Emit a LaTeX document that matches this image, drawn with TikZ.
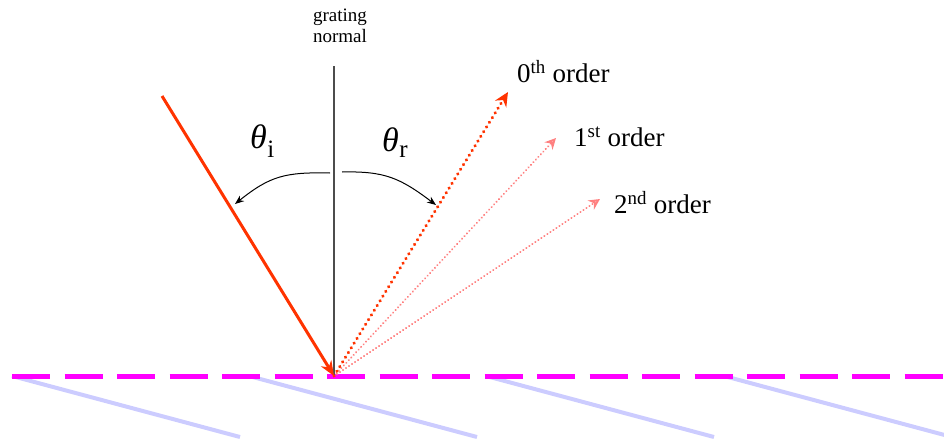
\documentclass[tikz,border=0pt]{standalone}
\usepackage{fontspec}
\setmainfont{Liberation Serif}
\usetikzlibrary{arrows.meta}
\definecolor{ray}{HTML}{FF3300}
\definecolor{faint}{HTML}{FF8080}
\definecolor{groove}{HTML}{CCCCFF}
\definecolor{surf}{HTML}{FF00FF}
\tikzset{
  lbl/.style={inner sep=0pt, font=\fontsize{27}{29}\selectfont, anchor=west},
  theta/.style={inner sep=0pt, font=\fontsize{34}{36}\selectfont, anchor=west},
  sub/.style={inner sep=0pt, font=\fontsize{25}{27}\selectfont, anchor=west},
  grooveline/.style={groove, line width=4pt},
  order0/.style={ray, line width=3.5pt, line cap=round, dash pattern=on 0.01pt off 5.5pt, -{Stealth[length=14pt,width=13pt]}},
  orderN/.style={faint, line width=2.2pt, line cap=round, dash pattern=on 0.01pt off 3.6pt, -{Stealth[length=11pt,width=11pt,open]}},
  anglearrow/.style={black, line width=1pt, -{Stealth[length=9pt,width=7pt]}}
}
\begin{document}
\begin{tikzpicture}[x=1pt,y=-1pt]
\useasboundingbox (0,0) rectangle (944,442);
% grooves
\foreach \s in {12,249,486,724} {
  \draw[grooveline] (\s,376) -- ++(228,61);
}
\fill[white] (944,0) rectangle (960,442);
% surface
\coordinate (SL) at (12,376);
\coordinate (SR) at (944,376);
\draw[surf, line width=5pt, dash pattern=on 38pt off 14.5pt] (SL) -- (SR);
% normal
\coordinate (O) at (334,376);
\coordinate (N) at (334,66);
\draw[gray!60!black, line width=1.5pt] (N) -- (O);
\node[inner sep=0pt, font=\fontsize{19}{21}\selectfont, align=center] (gn) at (340,26) {grating\\normal};
% incident
\coordinate (I) at (162,96);
\draw[ray, line width=3pt, -{Stealth[length=15pt,width=12pt]}] (I) -- (O);
% orders
\coordinate (Z) at (508,92);
\coordinate (F) at (556,138);
\coordinate (S) at (600,199);
\draw[orderN] (O) -- (F);
\draw[orderN] (O) -- (S);
\draw[order0] (O) -- (Z);
\node[lbl] (l0) at (517,72) {0\textsuperscript{th} order};
\node[lbl] (l1) at (574,137) {1\textsuperscript{st} order};
\node[lbl] (l2) at (614,203) {2\textsuperscript{nd} order};
% angles
\node[theta] (ti) at (250,137) {\itshape θ};
\node[sub] (si) at (ti.east) [yshift=-12pt] {i};
\node[theta] (tr) at (382,140) {\itshape θ};
\node[sub] (sr) at (tr.east) [yshift=-12pt] {r};
\coordinate (a1) at (330,173);
\coordinate (a2) at (235,204);
\coordinate (b1) at (342,172);
\coordinate (b2) at (436,205);
\draw[anglearrow] (a1) .. controls (285,172) and (270,176) .. (a2);
\draw[anglearrow] (b1) .. controls (385,171) and (400,178) .. (b2);
\end{tikzpicture}
\end{document}
